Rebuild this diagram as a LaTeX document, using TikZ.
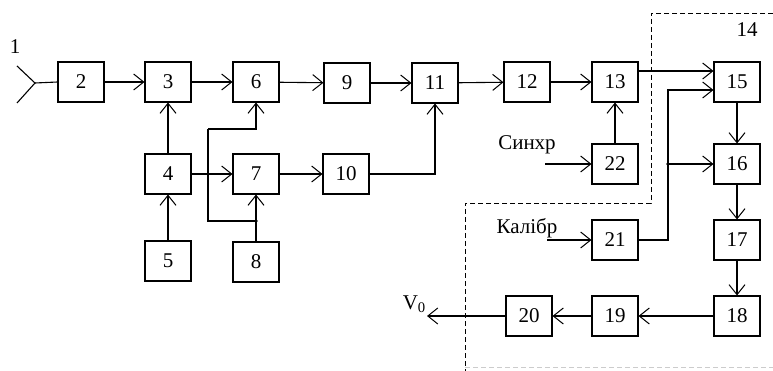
\documentclass[tikz,border=0pt]{standalone}
\usepackage{fontspec}
\setmainfont{Liberation Serif}
\usetikzlibrary{arrows.meta}
\tikzset{
  blk/.style={draw, line width=1.1pt, minimum width=46pt, minimum height=40pt, inner sep=0pt, font=\fontsize{21}{23}\selectfont},
  arr/.style={line width=1.1pt, -{Straight Barb[length=10pt,width=16pt,line width=1pt]}},
  ln/.style={line width=1.1pt},
  lbl/.style={font=\fontsize{21}{23}\selectfont, inner sep=0pt},
  bound/.style={line width=0.8pt, dash pattern=on 5pt off 3pt}
}
\begin{document}
\begin{tikzpicture}[x=1pt,y=-1pt]
\useasboundingbox (0,0) rectangle (773,371);
% boxes
\node[blk] (n2) at (81,82) {2};
\node[blk] (n3) at (168,82) {3};
\node[blk] (n6) at (256,82) {6};
\node[blk] (n9) at (347,83) {9};
\node[blk] (n11) at (435,83) {11};
\node[blk] (n12) at (527,82) {12};
\node[blk] (n13) at (615,82) {13};
\node[blk] (n15) at (737,82) {15};
\node[blk] (n4) at (168,174) {4};
\node[blk] (n7) at (256,174) {7};
\node[blk] (n10) at (346,174) {10};
\node[blk] (n5) at (168,261) {5};
\node[blk] (n8) at (256,262) {8};
\node[blk] (n22) at (615,164) {22};
\node[blk] (n16) at (737,164) {16};
\node[blk] (n21) at (615,240) {21};
\node[blk] (n17) at (737,240) {17};
\node[blk] (n20) at (529,316) {20};
\node[blk] (n19) at (615,316) {19};
\node[blk] (n18) at (737,316) {18};
% labels
\node[lbl] (l1) at (15,47) {1};
\node[lbl] (l14) at (747,30) {14};
\node[lbl] (lsync) at (527,145) {Синхр};
\node[lbl] (lcal) at (527,228) {Калібр};
\coordinate (v0) at (427,316);
\node[lbl, anchor=south east] (lv) at (426,313) {V\textsubscript{0}};
% antenna
\coordinate (ant) at (35,83);
\coordinate (anta) at (17,66);
\coordinate (antb) at (17,103);
\draw[ln] (anta) -- (ant) -- (antb);
\draw[ln] (ant) -- (n2.west);
% main chain
\draw[arr] (n2) -- (n3);
\draw[arr] (n3) -- (n6);
\draw[arr] (n6) -- (n9);
\draw[arr] (n9) -- (n11);
\draw[arr] (n11) -- (n12);
\draw[arr] (n12) -- (n13);
\draw[arr] ([yshift=11pt]n13.east) -- ([yshift=11pt]n15.west);
% lower left
\draw[arr] (n5) -- (n4);
\draw[arr] (n4) -- (n3);
\draw[arr] (n4) -- (n7);
\draw[arr] (n7) -- (n10);
\draw[arr] (n8) -- (n7);
\coordinate (d) at (256,221);
\coordinate (e) at (208,129);
\fill (d) circle (1.8pt);
\draw[ln] (d) -| (e);
\draw[arr] (e) -| (n6.south);
\draw[arr] (n10.east) -| (n11.south);
% right part
\draw[arr] (n22) -- (n13);
\coordinate (sin) at (545,164);
\draw[arr] (sin) -- (n22.west);
\coordinate (cin) at (547,240);
\draw[arr] (cin) -- (n21.west);
\coordinate (k) at (668,90);
\coordinate (j) at (668,164);
\draw[arr] (n21.east) -| (k) -- (k -| n15.west);
\fill (j) circle (1.8pt);
\draw[arr] (j) -- (n16.west);
\draw[arr] (n15) -- (n16);
\draw[arr] (n16) -- (n17);
\draw[arr] (n17) -- (n18);
\draw[arr] (n18) -- (n19);
\draw[arr] (n19) -- (n20);
\draw[arr] (n20) -- (v0);
% dashed boundary
\draw[bound] (773,13) -- (651,13) -- (651,203) -- (465,203) -- (465,371);
\draw[bound, gray!40] (465,367) -- (773,367);
\end{tikzpicture}
\end{document}
